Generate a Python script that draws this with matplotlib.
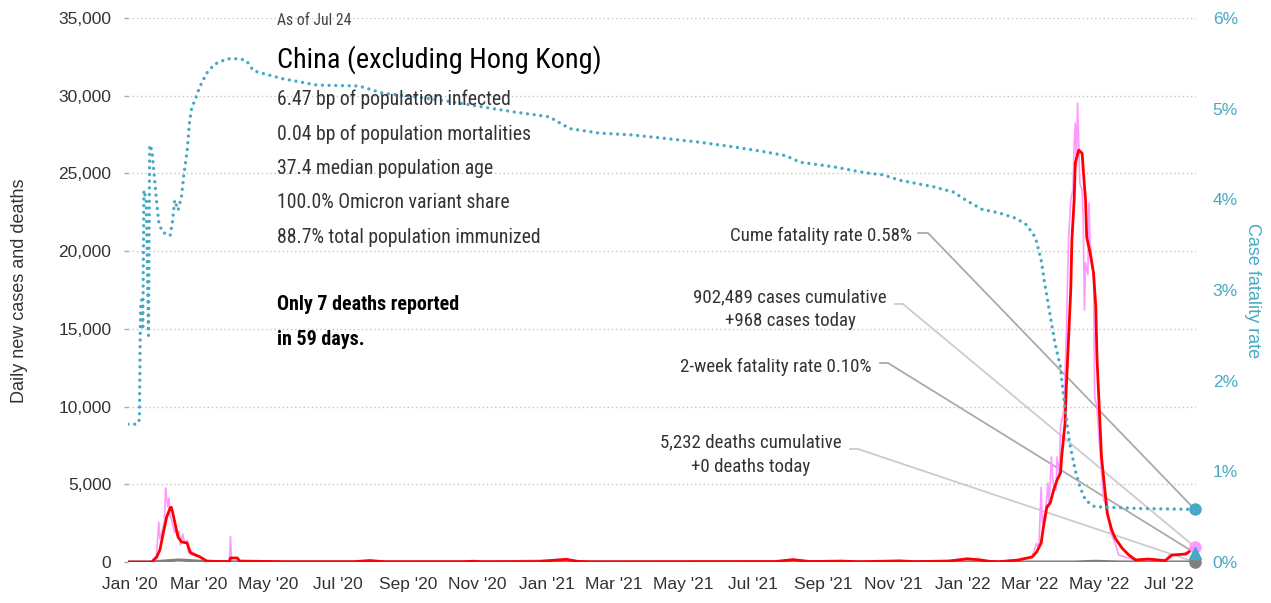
import matplotlib
matplotlib.use("Agg")
import matplotlib.pyplot as plt
import matplotlib.dates as mdates
from matplotlib import font_manager
from matplotlib.lines import Line2D
from matplotlib.ticker import FuncFormatter, MultipleLocator
import pandas as pd

# ---------------- data ----------------
cfr_dates = ["2019-12-30", "2020-01-07", "2020-01-09", "2020-01-10", "2020-01-11", "2020-01-12",
             "2020-01-13", "2020-01-15", "2020-01-17", "2020-01-18", "2020-01-20", "2020-01-22",
             "2020-01-24", "2020-01-26", "2020-01-29", "2020-02-05", "2020-02-07", "2020-02-09",
             "2020-02-12", "2020-02-15", "2020-02-17", "2020-02-20", "2020-02-22", "2020-02-24",
             "2020-02-27", "2020-03-02", "2020-03-08", "2020-03-15", "2020-03-26", "2020-04-06",
             "2020-04-12", "2020-04-18", "2020-04-26", "2020-05-14", "2020-06-13", "2020-07-20",
             "2020-08-10", "2020-09-08", "2020-10-07", "2020-11-05", "2020-12-05", "2021-01-03",
             "2021-01-21", "2021-02-16", "2021-03-17", "2021-04-16", "2021-05-15", "2021-06-13",
             "2021-07-13", "2021-07-30", "2021-08-11", "2021-09-09", "2021-10-09", "2021-10-23",
             "2021-11-07", "2021-12-06", "2021-12-24", "2022-01-04", "2022-01-18", "2022-02-02",
             "2022-02-17", "2022-02-26", "2022-03-06", "2022-03-11", "2022-03-14", "2022-03-17",
             "2022-03-20", "2022-03-23", "2022-03-28", "2022-03-30", "2022-04-02", "2022-04-05",
             "2022-04-10", "2022-04-14", "2022-04-19", "2022-04-27", "2022-05-17", "2022-06-04",
             "2022-07-24"]
cfr_pct = [1.52, 1.52, 1.57, 2.80, 2.89, 2.56,
           4.10, 3.99, 2.50, 4.60, 4.54, 4.27,
           3.99, 3.75, 3.64, 3.60, 3.75, 3.99,
           3.88, 4.03, 4.27, 4.54, 4.85, 5.01,
           5.10, 5.24, 5.39, 5.49, 5.55, 5.55,
           5.53, 5.42, 5.39, 5.33, 5.26, 5.25,
           5.17, 5.13, 5.08, 5.02, 4.96, 4.91,
           4.78, 4.73, 4.71, 4.67, 4.63, 4.58,
           4.52, 4.48, 4.41, 4.36, 4.29, 4.27,
           4.21, 4.14, 4.08, 3.99, 3.89, 3.85,
           3.79, 3.72, 3.58, 3.33, 3.08, 2.86,
           2.64, 2.42, 2.15, 1.90, 1.60, 1.31,
           1.01, 0.83, 0.68, 0.61, 0.60, 0.59,
           0.58]

daily_dates = ["2019-12-30", "2020-01-17", "2020-01-20", "2020-01-24", "2020-01-26", "2020-01-27",
               "2020-01-29", "2020-01-31", "2020-02-01", "2020-02-02", "2020-02-03", "2020-02-04",
               "2020-02-05", "2020-02-07", "2020-02-09", "2020-02-10", "2020-02-11", "2020-02-13",
               "2020-02-14", "2020-02-16", "2020-02-18", "2020-02-20", "2020-02-21", "2020-02-23",
               "2020-02-25", "2020-02-28", "2020-03-02", "2020-03-04", "2020-03-08", "2020-03-15",
               "2020-03-28", "2020-03-29", "2020-03-30", "2020-04-10", "2020-05-15", "2020-07-22",
               "2020-07-29", "2020-08-10", "2020-10-28", "2020-11-05", "2021-01-12", "2021-01-18",
               "2021-01-30", "2021-07-25", "2021-08-05", "2021-08-20", "2021-09-17", "2021-10-01",
               "2021-11-07", "2021-11-20", "2021-12-22", "2022-01-05", "2022-01-15", "2022-01-25",
               "2022-02-05", "2022-02-19", "2022-03-03", "2022-03-07", "2022-03-09", "2022-03-11",
               "2022-03-12", "2022-03-15", "2022-03-17", "2022-03-18", "2022-03-20", "2022-03-22",
               "2022-03-24", "2022-03-25", "2022-03-27", "2022-03-28", "2022-03-31", "2022-04-02",
               "2022-04-04", "2022-04-06", "2022-04-08", "2022-04-09", "2022-04-10", "2022-04-11",
               "2022-04-12", "2022-04-13", "2022-04-14", "2022-04-16", "2022-04-17", "2022-04-18",
               "2022-04-19", "2022-04-21", "2022-04-22", "2022-04-23", "2022-04-26", "2022-04-27",
               "2022-04-29", "2022-05-01", "2022-05-03", "2022-05-05", "2022-05-08", "2022-05-11",
               "2022-05-15", "2022-05-18", "2022-05-25", "2022-06-02", "2022-06-13", "2022-06-28",
               "2022-07-02", "2022-07-10", "2022-07-16", "2022-07-20", "2022-07-24"]
daily_cases = [0, 0, 100, 400, 2570, 1500,
               2000, 2600, 4760, 3990, 3540, 4100,
               3000, 2500, 1870, 2200, 1700, 2000,
               1100, 1800, 1200, 1400, 580, 700,
               600, 500, 300, 250, 100, 40,
               40, 1630, 60, 50, 15, 20,
               130, 25, 60, 20, 150, 200,
               30, 40, 180, 30, 80, 25,
               90, 30, 100, 250, 150, 40,
               30, 150, 350, 1200, 900, 4800,
               2500, 3350, 5080, 3500, 6760, 4630,
               4630, 6760, 5500, 8690, 9780, 14280,
               20720, 23290, 24000, 26960, 28250, 25500,
               29530, 27000, 24380, 23930, 22000, 16210,
               19240, 18500, 23100, 20520, 18600, 10620,
               9970, 7850, 5730, 4000, 3540, 1870,
               1220, 450, 300, 100, 150, 100,
               500, 400, 600, 700, 968]

avg_dates = ["2019-12-30", "2020-01-20", "2020-01-24", "2020-01-27", "2020-01-30", "2020-02-02",
             "2020-02-05", "2020-02-06", "2020-02-07", "2020-02-10", "2020-02-12", "2020-02-15",
             "2020-02-20", "2020-02-21", "2020-02-23", "2020-02-27", "2020-03-02", "2020-03-08",
             "2020-03-20", "2020-03-28", "2020-03-29", "2020-04-04", "2020-04-06", "2020-05-15",
             "2020-07-15", "2020-07-29", "2020-08-12", "2020-10-20", "2020-10-28", "2020-11-05",
             "2020-12-25", "2021-01-10", "2021-01-18", "2021-01-28", "2021-02-10", "2021-07-20",
             "2021-08-05", "2021-08-20", "2021-09-17", "2021-10-01", "2021-11-07", "2021-11-20",
             "2021-12-20", "2022-01-05", "2022-01-15", "2022-01-25", "2022-02-02", "2022-02-19",
             "2022-03-03", "2022-03-07", "2022-03-11", "2022-03-13", "2022-03-16", "2022-03-19",
             "2022-03-22", "2022-03-25", "2022-03-28", "2022-03-29", "2022-04-01", "2022-04-02",
             "2022-04-04", "2022-04-06", "2022-04-07", "2022-04-09", "2022-04-10", "2022-04-13",
             "2022-04-16", "2022-04-17", "2022-04-19", "2022-04-20", "2022-04-23", "2022-04-26",
             "2022-04-28", "2022-04-29", "2022-05-01", "2022-05-03", "2022-05-06", "2022-05-08",
             "2022-05-12", "2022-05-15", "2022-05-21", "2022-05-27", "2022-06-02", "2022-06-13",
             "2022-06-28", "2022-07-04", "2022-07-16", "2022-07-21", "2022-07-24"]
avg_cases = [0, 0, 300, 770, 1870, 2900,
             3470, 3520, 3260, 2250, 1600, 1290,
             1220, 970, 580, 450, 340, 60,
             30, 30, 260, 260, 60, 20,
             20, 90, 20, 20, 50, 20,
             30, 130, 170, 40, 15, 30,
             150, 30, 60, 20, 70, 25,
             60, 200, 150, 40, 20, 130,
             320, 640, 1220, 2250, 3540, 3800,
             4630, 5280, 5730, 6760, 8940, 11070,
             14280, 17500, 20720, 23290, 25670, 26500,
             26300, 25220, 23290, 20910, 19880, 18600,
             16410, 13190, 9970, 6760, 4630, 3150,
             2060, 1540, 900, 450, 130, 190,
             90, 450, 510, 770, 800]

death_dates = ["2019-12-30", "2020-01-20", "2020-01-28", "2020-02-05", "2020-02-12", "2020-02-18",
               "2020-02-25", "2020-03-05", "2020-03-15", "2020-04-01", "2020-04-20", "2022-04-10",
               "2022-04-20", "2022-04-28", "2022-05-08", "2022-05-20", "2022-07-24"]
deaths = [0, 0, 50, 90, 130, 110,
          80, 30, 10, 5, 0, 0,
          30, 45, 25, 3, 0]

assert len(cfr_dates) == len(cfr_pct)
assert len(daily_dates) == len(daily_cases)
assert len(avg_dates) == len(avg_cases)
assert len(death_dates) == len(deaths)

last_date = "2022-07-24"
cume_cfr = 0.58
twowk_cfr = 0.10
cases_today = 968
deaths_today = 0

stats_lines = ["6.47 bp of population infected",
               "0.04 bp of population mortalities",
               "37.4 median population age",
               "100.0% Omicron variant share",
               "88.7% total population immunized"]

# ---------------- fonts ----------------
available = {f.name for f in font_manager.fontManager.ttflist}


def pick(cands):
    for c in cands:
        if c in available:
            return c
    return "DejaVu Sans"


NARROW = pick(["Liberation Sans Narrow", "Roboto Condensed", "Open Sans Condensed",
               "DejaVu Sans Condensed", "Liberation Sans"])
REG = pick(["Liberation Sans", "Roboto", "DejaVu Sans"])

TEAL = "#48a9c5"
PINK = "#ff99ff"
GRAY = "#808080"
TXT = "#333333"

W, H = 1271, 603
fig = plt.figure(figsize=(W / 100, H / 100), dpi=100)


def fx(x):
    return x / W


def fy(y):
    return 1 - y / H


ax = fig.add_axes([fx(128), fy(562), (1196 - 128) / W, (562 - 18) / H])
ax2 = ax.twinx()

to_dt = pd.to_datetime
ax.plot(to_dt(daily_dates), daily_cases, color=PINK, lw=1.2, zorder=2)
ax.plot(to_dt(death_dates), deaths, color=GRAY, lw=2.2, zorder=2.5)
ax.plot(to_dt(avg_dates), avg_cases, color="red", lw=2.0, zorder=3)
ax2.plot(to_dt(cfr_dates), cfr_pct, color=TEAL, lw=2.4, linestyle=(0, (0.01, 2.0)),
         dash_capstyle="round", zorder=3)

end = to_dt(last_date)
ax.plot([end], [cases_today], "o", color=PINK, ms=8, clip_on=False, zorder=5)
ax.plot([end], [deaths_today], "o", color=GRAY, ms=8, clip_on=False, zorder=5)
ax2.plot([end], [cume_cfr], "o", color=TEAL, ms=8, clip_on=False, zorder=5)
ax2.plot([end], [twowk_cfr], "^", color=TEAL, ms=8, clip_on=False, zorder=5)

ax.set_xlim(pd.Timestamp("2019-12-30"), pd.Timestamp("2022-07-25"))
ax.set_ylim(0, 35000)
ax2.set_ylim(0, 6)

for a in (ax, ax2):
    for s in a.spines.values():
        s.set_visible(False)

ax.yaxis.set_major_locator(MultipleLocator(5000))
ax.yaxis.set_major_formatter(FuncFormatter(lambda v, p: f"{int(v):,}"))
ax.yaxis.grid(True, color="#c4c4c4", linestyle=(0, (1, 2)), linewidth=1.0)
ax.set_axisbelow(True)
ax.tick_params(axis="y", length=3, color="#aaaaaa", width=1, pad=9, labelsize=12.5,
               labelcolor=TXT)
ax.xaxis.set_major_locator(mdates.MonthLocator(bymonth=[1, 3, 5, 7, 9, 11]))
ax.xaxis.set_major_formatter(FuncFormatter(
    lambda v, p: mdates.num2date(v).strftime("%b '%y")))
ax.tick_params(axis="x", length=0, pad=11, labelsize=12.5, labelcolor=TXT)

ax2.yaxis.set_major_locator(MultipleLocator(1))
ax2.yaxis.set_major_formatter(FuncFormatter(lambda v, p: f"{v:.0f}%"))
ax2.tick_params(axis="y", length=0, pad=12, labelsize=12.5, labelcolor=TEAL)

for lab in ax.get_xticklabels() + ax.get_yticklabels() + ax2.get_yticklabels():
    lab.set_fontfamily(REG)

# axis titles
fig.text(fx(20), fy(291), "Daily new cases and deaths", rotation=90, ha="center",
         va="center", fontsize=13, family=REG, color=TXT)
fig.text(fx(1252), fy(291), "Case fatality rate", rotation=-90, ha="center",
         va="center", fontsize=13, family=REG, color=TEAL)

# info block
fig.text(fx(277), fy(25), "As of Jul 24", fontsize=11.3, family=NARROW, color="#444444",
         va="baseline")
fig.text(fx(277), fy(68), "China (excluding Hong Kong)", fontsize=20.3, family=NARROW,
         color="black", va="baseline")
for i, line in enumerate(stats_lines):
    fig.text(fx(277), fy(105 + i * 34.5), line, fontsize=14.2, family=NARROW, color=TXT,
             va="baseline")
fig.text(fx(277), fy(310), "Only 7 deaths reported", fontsize=14.4, family=NARROW,
         weight="bold", color="black", va="baseline")
fig.text(fx(277), fy(345), "in 59 days.", fontsize=14.4, family=NARROW,
         weight="bold", color="black", va="baseline")

# annotations
ann_kw = dict(fontsize=13.6, family=NARROW, color=TXT, va="baseline")
fig.text(fx(912), fy(241), f"Cume fatality rate {cume_cfr:.2f}%", ha="right", **ann_kw)
fig.text(fx(790), fy(302), "902,489 cases cumulative", ha="center", **ann_kw)
fig.text(fx(790), fy(326), f"+{cases_today:,} cases today", ha="center", **ann_kw)
fig.text(fx(872), fy(372), f"2-week fatality rate {twowk_cfr:.2f}%", ha="right", **ann_kw)
fig.text(fx(751), fy(447), "5,232 deaths cumulative", ha="center", **ann_kw)
fig.text(fx(751), fy(472), f"+{deaths_today} deaths today", ha="center", **ann_kw)

inv = fig.transFigure.inverted()


def target(axis, val):
    d = axis.transData.transform((mdates.date2num(end), val))
    return inv.transform(d)


leaders = [
    ((918, 233), (928, 233), target(ax2, cume_cfr), "#aaaaaa"),
    ((895, 304), (903, 304), target(ax, cases_today), "#cccccc"),
    ((880, 363), (888, 363), target(ax2, twowk_cfr), "#aaaaaa"),
    ((850, 449), (858, 449), target(ax, deaths_today), "#cccccc"),
]
for p0, p1, tgt, col in leaders:
    ln = Line2D([fx(p0[0]), fx(p1[0]), tgt[0]], [fy(p0[1]), fy(p1[1]), tgt[1]],
                transform=fig.transFigure, color=col, lw=1.3, zorder=1.5, clip_on=False)
    ax.add_line(ln)

fig.savefig("out.png", dpi=100)
